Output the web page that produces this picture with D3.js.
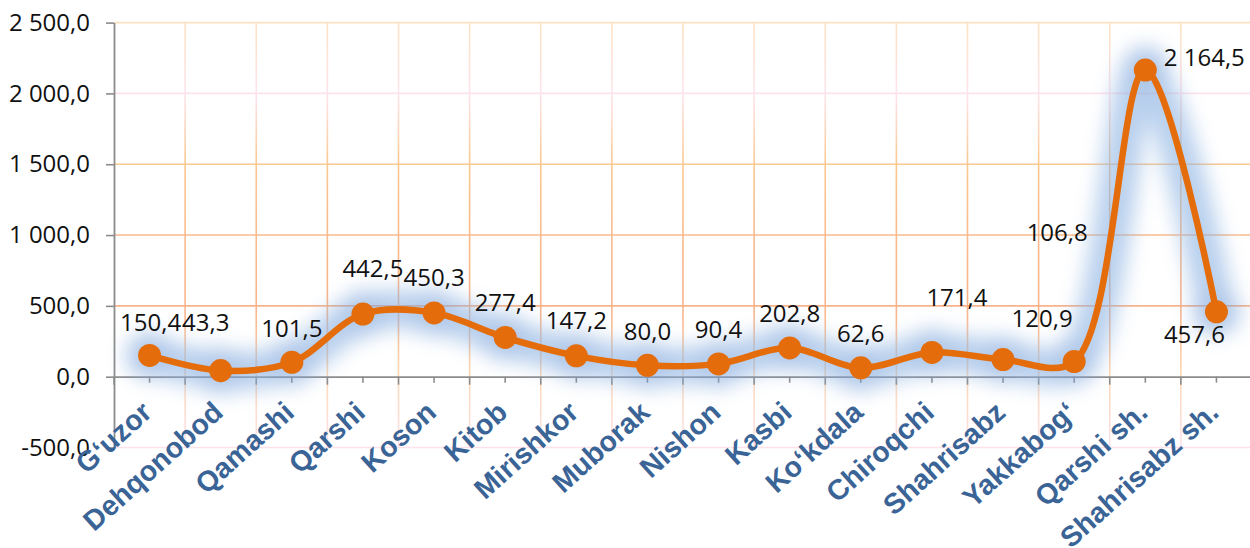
<!DOCTYPE html>
<html>
<head>
<meta charset="utf-8">
<script src="https://cdn.jsdelivr.net/npm/d3@7"></script>
<style>
  body { margin: 0; background: #fff; }
  svg { display: block; }
</style>
</head>
<body>
<svg id="chart"></svg>
<script>
// districts of Qashqadaryo
let districts = ['G‘uzor', 'Dehqonobod', 'Qamashi', 'Qarshi', 'Koson', 'Kitob', 'Mirishkor',
  'Muborak', 'Nishon', 'Kasbi', 'Ko‘kdala', 'Chiroqchi', 'Shahrisabz', 'Yakkabog‘',
  'Qarshi sh.', 'Shahrisabz sh.'];
let values = [150.4, 43.3, 101.5, 442.5, 450.3, 277.4, 147.2, 80.0, 90.4, 202.8, 62.6,
  171.4, 120.9, 106.8, 2164.5, 457.6];
let yTicks = [-500, 0, 500, 1000, 1500, 2000, 2500];

let width = 1250;
let height = 548;
let margin = { top: 22.6, right: -2, bottom: 100.5, left: 114 };

// label offsets from their point (px), as placed in the original
let labelNudge = [[1, -24], [-15, -40], [0, -25], [10, -37], [0, -27], [0, -26], [0, -27],
  [0, -25], [0, -26], [0, -26], [0, -26], [25, -46], [39, -33], [-17, -121], [59, -4], [-22, 31]];

let locale = d3.formatLocale({ decimal: ',', thousands: '\u00a0', grouping: [3], currency: ['', ''], minus: '-' });
let fmt = locale.format(',.1f');

let svg = d3.select('#chart')
  .attr('width', width)
  .attr('height', height);

let x = d3.scaleBand()
  .domain(districts)
  .range([margin.left, width - margin.right])
  .padding(0);

let y = d3.scaleLinear()
  .domain([-500, 2500])
  .range([height - margin.bottom, margin.top]);

let cx = d => x(d) + x.bandwidth() / 2;

let defs = svg.append('defs');

// grid colour changes with height, like the original
let grad = defs.append('linearGradient')
  .attr('id', 'gridGrad')
  .attr('gradientUnits', 'userSpaceOnUse')
  .attr('x1', 0).attr('x2', 0)
  .attr('y1', y(2500)).attr('y2', y(-500));
[[0, '#fde2c2'], [0.17, '#fde3ec'], [0.33, '#fbc890'], [0.5, '#f9ba8c'], [0.67, '#f8b38a'],
 [0.83, '#fdd8b4'], [1, '#fde2ea']].forEach(s => {
  grad.append('stop').attr('offset', s[0]).attr('stop-color', s[1]);
});

defs.append('filter')
  .attr('id', 'glow')
  .attr('x', '-20%').attr('y', '-20%').attr('width', '140%').attr('height', '140%')
  .append('feGaussianBlur')
  .attr('stdDeviation', 10);

// horizontal grid
svg.append('g')
  .selectAll('line')
  .data(yTicks.filter(t => t !== 0))
  .join('line')
    .attr('x1', margin.left)
    .attr('x2', width - margin.right)
    .attr('y1', d => y(d))
    .attr('y2', d => y(d))
    .attr('stroke', 'url(#gridGrad)')
    .attr('stroke-width', 1.6);

// vertical grid at category boundaries
let bounds = districts.slice(1).map(d => x(d)).concat([x.range()[1]]);
svg.append('g')
  .selectAll('line')
  .data(bounds)
  .join('line')
    .attr('x1', d => d)
    .attr('x2', d => d)
    .attr('y1', y(2500))
    .attr('y2', y(-500))
    .attr('stroke', 'url(#gridGrad)')
    .attr('stroke-width', 1.6);

// y axis
svg.append('g')
  .attr('transform', `translate(${margin.left},0)`)
  .call(d3.axisLeft(y).tickValues(yTicks).tickFormat(fmt).tickSize(8).tickPadding(16).tickSizeOuter(0))
  .call(g => g.select('.domain').attr('stroke', '#8c8c8c').attr('stroke-width', 1.8))
  .call(g => g.selectAll('.tick line').attr('stroke', '#8c8c8c').attr('stroke-width', 1.6))
  .call(g => g.selectAll('.tick text')
    .attr('font-family', 'Open Sans')
    .attr('font-size', 24)
    .attr('fill', '#111'));

// x axis on the zero line
let xAxis = svg.append('g')
  .attr('transform', `translate(0,${y(0)})`)
  .call(d3.axisBottom(x).tickFormat('').tickSize(6).tickSizeOuter(0))
  .call(g => g.select('.domain').attr('stroke', '#8c8c8c').attr('stroke-width', 1.8))
  .call(g => g.selectAll('.tick line').attr('stroke', '#8c8c8c').attr('stroke-width', 1.6));

xAxis.append('g')
  .selectAll('line')
  .data([margin.left].concat(bounds))
  .join('line')
    .attr('x1', d => d)
    .attr('x2', d => d)
    .attr('y1', 0)
    .attr('y2', 8)
    .attr('stroke', '#8c8c8c')
    .attr('stroke-width', 1.6);

svg.append('g')
  .selectAll('text')
  .data(districts)
  .join('text')
    .attr('transform', d => `translate(${cx(d) + 4},${y(0) + 38}) rotate(-42)`)
    .attr('text-anchor', 'end')
    .attr('font-family', 'Liberation Sans')
    .attr('font-weight', 'bold')
    .attr('font-size', 28.5)
    .attr('fill', '#3a6496')
    .text(d => d);

let pts = districts.map((d, i) => [cx(d), y(values[i])]);
let line = d3.line().curve(d3.curveCatmullRom.alpha(0.5));

// blue soft glow under the series
let glow = svg.append('g')
  .attr('filter', 'url(#glow)')
  .attr('opacity', 0.62);
glow.append('path')
  .attr('d', line(pts))
  .attr('fill', 'none')
  .attr('stroke', '#8db3e2')
  .attr('stroke-width', 38);
glow.selectAll('circle')
  .data(pts)
  .join('circle')
    .attr('cx', d => d[0])
    .attr('cy', d => d[1])
    .attr('r', 23)
    .attr('fill', '#7fa6dc');

svg.append('path')
  .attr('d', line(pts))
  .attr('fill', 'none')
  .attr('stroke', '#e46c0a')
  .attr('stroke-width', 6.5);

svg.append('g')
  .selectAll('circle')
  .data(pts)
  .join('circle')
    .attr('cx', d => d[0])
    .attr('cy', d => d[1])
    .attr('r', 11.5)
    .attr('fill', '#e46c0a');

svg.append('g')
  .selectAll('text')
  .data(values)
  .join('text')
    .attr('x', (d, i) => pts[i][0] + labelNudge[i][0])
    .attr('y', (d, i) => pts[i][1] + labelNudge[i][1])
    .attr('text-anchor', 'middle')
    .attr('font-family', 'Open Sans')
    .attr('font-size', 24)
    .attr('fill', '#111')
    .text(d => fmt(d));
</script>
</body>
</html>
